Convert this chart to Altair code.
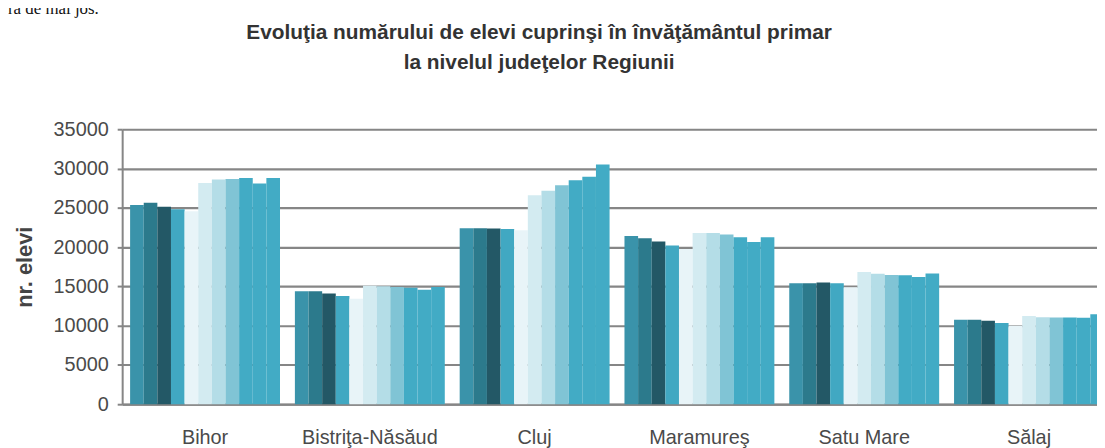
import altair as alt
import pandas as pd

counties = ["Bihor", "Bistriţa-Năsăud", "Cluj", "Maramureş", "Satu Mare", "Sălaj"]
years = ["2000/2001", "2001/2002", "2002/2003", "2003/2004", "2004/2005", "2005/2006",
         "2006/2007", "2007/2008", "2008/2009", "2009/2010", "2010/2011"]

bihor = [25340, 25630, 25130, 24800, 24550, 28160, 28590, 28670, 28800, 28090, 28800]
bistrita = [14380, 14380, 14090, 13760, 13420, 15080, 15000, 14920, 14830, 14580, 14920]
cluj = [22410, 22410, 22380, 22300, 22150, 26590, 27160, 27870, 28500, 28950, 30500]
maramures = [21410, 21130, 20710, 20210, 19750, 21800, 21800, 21590, 21250, 20660, 21250]
satu_mare = [15410, 15410, 15500, 15410, 14880, 16820, 16610, 16440, 16400, 16190, 16650]
salaj = [10740, 10740, 10620, 10330, 10000, 11240, 11070, 11030, 11030, 10990, 11450]

series = [bihor, bistrita, cluj, maramures, satu_mare, salaj]

bar_colors = ["#3a93aa", "#2c7a8c", "#235866", "#41a8c2", "#e8f4f8", "#d3ebf1",
              "#b4dde7", "#80c4d5", "#42abc5", "#42abc5", "#42abc5"]

y_ticks = [0, 5000, 10000, 15000, 20000, 25000, 30000, 35000]

title_line1 = ["Evoluţia numărului de elevi cuprinşi în învăţământul primar"]
title_line2 = ["la nivelul judeţelor Regiunii"]
top_text = ["ra de mai jos."]

rows = []
for c, vals in zip(counties, series):
    for yr, v in zip(years, vals):
        rows.append({"judet": c, "an": yr, "elevi": v})
df = pd.DataFrame(rows)

FONT = "Liberation Sans"
GRID = "#868686"

bars = alt.Chart(df).mark_bar(stroke=None).encode(
    x=alt.X("judet:N", sort=counties,
            scale=alt.Scale(range=[0, 997], paddingInner=0.0904, paddingOuter=0.0482),
            axis=alt.Axis(title=None, labelAngle=0, ticks=False, labelFontSize=20,
                          labelFont=FONT, labelColor="#4a4a4a", labelPadding=24,
                          domainColor=GRID, domainWidth=2, grid=False)),
    xOffset=alt.XOffset("an:N", sort=years,
                        scale=alt.Scale(paddingInner=0, paddingOuter=0)),
    y=alt.Y("elevi:Q", scale=alt.Scale(domain=[0, 35000], nice=False),
            axis=alt.Axis(values=y_ticks, format="d", title="nr. elevi", titleFont=FONT,
                          titleFontSize=22, titleFontWeight="bold", titleColor="#444444",
                          titleAngle=270, titleX=-98, titleY=138.5,
                          titleAlign="center", titleBaseline="middle",
                          labelFont=FONT, labelFontSize=20, labelColor="#4a4a4a",
                          labelPadding=9, tickSize=5, tickColor=GRID, tickWidth=2,
                          domainColor=GRID, domainWidth=2, gridColor=GRID,
                          gridWidth=2.2, grid=True)),
    color=alt.Color("an:N", sort=years,
                    scale=alt.Scale(domain=years, range=bar_colors), legend=None),
)

def text_layer(lines, x, y, **kw):
    return alt.Chart(pd.DataFrame({"t": lines})).mark_text(**kw).encode(
        text="t:N", x=alt.value(x), y=alt.value(y))

title1 = text_layer(title_line1, 420, -90.5, font=FONT, fontSize=21, fontWeight="bold",
                    color="#333333", align="center", baseline="alphabetic")
title2 = text_layer(title_line2, 420, -60.5, font=FONT, fontSize=21, fontWeight="bold",
                    color="#333333", align="center", baseline="alphabetic")
top = text_layer(top_text, -115, -116, font="Liberation Serif", fontSize=17,
                 color="#111111", align="left", baseline="alphabetic")

chart = alt.layer(bars, title1, title2, top).properties(
    width=982, height=277,
    autosize=alt.AutoSizeParams(type="none"),
    padding={"left": 115, "top": 120.5, "right": 0, "bottom": 42.5},
).configure_view(stroke=None).configure(background="white")

chart.save("out.html", embed_options={"renderer": "svg", "actions": False})
